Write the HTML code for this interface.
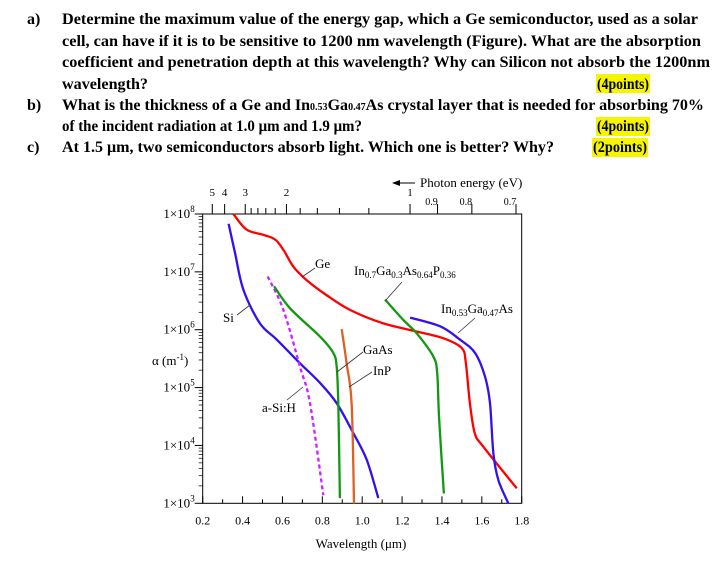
<!DOCTYPE html>
<html><head><meta charset="utf-8"><style>
html,body{margin:0;padding:0;background:#fff;}
svg{display:block;font-family:"Liberation Serif",serif;}
</style></head><body>
<svg width="717" height="576" viewBox="0 0 717 576">
<g font-weight="bold" font-size="16" fill="#000">
  <rect x="596" y="74" width="54" height="19" fill="#f5f500"/>
  <rect x="596" y="117" width="54" height="19" fill="#f5f500"/>
  <rect x="592" y="138" width="56" height="19" fill="#f5f500"/>
  <text x="27" y="24">a)</text>
  <text x="62" y="24" textLength="636" lengthAdjust="spacingAndGlyphs">Determine the maximum value of the energy gap, which a Ge semiconductor, used as a solar</text>
  <text x="62" y="46" textLength="639" lengthAdjust="spacingAndGlyphs">cell, can have if it is to be sensitive to 1200 nm wavelength (Figure).  What are the absorption</text>
  <text x="62" y="67" textLength="648" lengthAdjust="spacingAndGlyphs">coefficient and penetration depth at this wavelength?  Why can Silicon not absorb the 1200nm</text>
  <text x="62" y="89" textLength="86" lengthAdjust="spacingAndGlyphs">wavelength?</text>
  <text x="597" y="89" textLength="52" lengthAdjust="spacingAndGlyphs">(4points)</text>
  <text x="27" y="110">b)</text>
  <text x="62" y="110" textLength="642" lengthAdjust="spacingAndGlyphs">What is the thickness of a Ge and In<tspan font-size="10">0.53</tspan>Ga<tspan font-size="10">0.47</tspan>As crystal layer that is needed for absorbing 70%</text>
  <text x="62" y="131" textLength="300" lengthAdjust="spacingAndGlyphs">of the incident radiation at 1.0 μm and 1.9 μm?</text>
  <text x="597" y="131" textLength="52" lengthAdjust="spacingAndGlyphs">(4points)</text>
  <text x="27" y="152">c)</text>
  <text x="62" y="152" textLength="492" lengthAdjust="spacingAndGlyphs">At 1.5 μm, two semiconductors absorb light. Which one is better? Why?</text>
  <text x="593" y="152" textLength="54" lengthAdjust="spacingAndGlyphs">(2points)</text>
</g>
<g id="chart"></g>
</svg>
<script>
const xTickLabels=["0.2","0.4","0.6","0.8","1.0","1.2","1.4","1.6","1.8"];
const xTickValues=[0.2,0.4,0.6,0.8,1.0,1.2,1.4,1.6,1.8];
const yTickExps=[8,7,6,5,4,3];
const energyMajor=[5,4,3,2,1,0.9,0.8,0.7];
const energyMinor=[2.8,2.6,2.4,2.2,1.8,1.6,1.4,1.2];
const geLambda=[0.354,0.42,0.504,0.563,0.605,0.655,0.72,0.82,0.94,1.106,1.273,1.41,1.5,1.52,1.54,1.565,1.607,1.775];
const geLog=[8.0,7.73,7.64,7.56,7.38,7.09,6.86,6.6,6.34,6.11,5.97,5.85,5.68,5.42,4.73,4.21,3.98,3.26];
const siLambda=[0.33,0.362,0.404,0.487,0.571,0.688,0.789,0.872,0.956,1.023,1.081];
const siLog=[7.83,7.33,6.69,6.11,5.83,5.42,5.08,4.73,4.21,3.75,3.09];
const asiLambda=[0.526,0.605,0.688,0.738,0.805];
const asiLog=[6.92,6.34,5.36,4.73,3.14];
const gaasLambda=[0.558,0.638,0.789,0.855,0.872,0.88,0.888];
const gaasLog=[6.75,6.37,5.88,5.6,5.36,4.73,3.09];
const inpLambda=[0.897,0.922,0.947,0.959];
const inpLog=[6.01,5.42,4.73,3.0];
const ingaaspLambda=[1.115,1.206,1.273,1.356,1.376,1.386,1.41];
const ingaaspLog=[6.52,6.17,5.94,5.54,5.25,4.44,3.17];
const ingaasLambda=[1.24,1.39,1.49,1.566,1.616,1.641,1.658,1.683,1.733];
const ingaasLog=[6.21,6.06,5.83,5.6,5.19,4.73,3.86,3.4,3.0];

const L=202.7,R=521.7,T=214,B=503.3;
function xs(l){return L+(l-0.2)*(R-L)/1.6;}
function ys(e){return T+(8-e)*(B-T)/5;}
const NS="http://www.w3.org/2000/svg";
const g=document.getElementById('chart');
function mk(tag,attrs,parent){const e=document.createElementNS(NS,tag);for(const k in attrs)e.setAttribute(k,attrs[k]);(parent||g).appendChild(e);return e;}
function txt(x,y,s,size,anchor){const t=mk('text',{x:x,y:y,'font-size':size||12,'text-anchor':anchor||'start',fill:'#000'});t.innerHTML=s;return t;}

const fr=mk('rect',{x:L,y:T,width:R-L,height:B-T,fill:'none',stroke:'#000','stroke-width':1});



for(let i=0;i<xTickValues.length;i++){
  const x=xs(xTickValues[i]);
  mk('line',{x1:x,y1:B,x2:x,y2:B-7,stroke:'#000'});
  const t=txt(x,B+21,xTickLabels[i],12,'middle');
  
  
  if(i<xTickValues.length-1){const xm=xs(xTickValues[i]+0.1);mk('line',{x1:xm,y1:B,x2:xm,y2:B-4,stroke:'#000'});}
}
for(let i=0;i<yTickExps.length;i++){
  const e=yTickExps[i],y=ys(e);
  mk('line',{x1:L,y1:y,x2:L-8,y2:y,stroke:'#000'});
  const t=txt(L-8,y+4,'1×10<tspan font-size="9" dy="-6">'+e+'</tspan>',13,'end');
  
  
  if(e>3){for(let m=2;m<10;m++){const ym=ys(e-1+Math.log10(m));mk('line',{x1:L,y1:ym,x2:L-4,y2:ym,stroke:'#000','stroke-width':0.7});}}
}
for(const E of energyMajor){const x=xs(1.24/E);mk('line',{x1:x,y1:T,x2:x,y2:T-10,stroke:'#000'});
  const t=txt(E<1?x-6:x,E<1?T-9:T-18,String(E),E<1?10:11,'middle');
  
  }
for(const E of energyMinor){const x=xs(1.24/E);mk('line',{x1:x,y1:T,x2:x,y2:T-6,stroke:'#000'});}
const pe=txt(420,187,'Photon energy (eV)',13);


mk('line',{x1:398,y1:183,x2:415,y2:183,stroke:'#000'});
mk('path',{d:'M392 183 L400 180 L400 186 Z',fill:'#000'});
const xt=txt(361,548,'Wavelength (μm)',13,'middle');


const yt=txt(152,365,'α (m<tspan font-size="9" dy="-5">-1</tspan><tspan dy="5">)</tspan>',13);



function curve(lam,lg,color,name,dash){
  const P=lam.map((l,i)=>[xs(l),ys(lg[i])]);
  let d='M'+P[0][0].toFixed(1)+' '+P[0][1].toFixed(1);
  for(let i=0;i<P.length-1;i++){
    const p0=P[i-1]||P[i],p1=P[i],p2=P[i+1],p3=P[i+2]||P[i+1];
    const c1=[p1[0]+(p2[0]-p0[0])/6,p1[1]+(p2[1]-p0[1])/6];
    const c2=[p2[0]-(p3[0]-p1[0])/6,p2[1]-(p3[1]-p1[1])/6];
    d+='C'+c1[0].toFixed(1)+' '+c1[1].toFixed(1)+' '+c2[0].toFixed(1)+' '+c2[1].toFixed(1)+' '+p2[0].toFixed(1)+' '+p2[1].toFixed(1);
  }
  const p=mk('path',{d:d,fill:'none',stroke:color,'stroke-width':2.3,'stroke-linejoin':'round','stroke-linecap':'butt'});
  if(dash)p.setAttribute('stroke-dasharray',dash);
  
  
}
curve(geLambda,geLog,'#ff0000','ge-curve');
curve(siLambda,siLog,'#3311ee','si-curve');
curve(asiLambda,asiLog,'#cc22ff','a-si-h-curve','4 3');
curve(gaasLambda,gaasLog,'#119911','gaas-curve');
curve(inpLambda,inpLog,'#e06020','inp-curve');
curve(ingaaspLambda,ingaaspLog,'#119911','ingaasp-curve');
curve(ingaasLambda,ingaasLog,'#3311ee','ingaas-curve');

function label(x,y,s,lx1,ly1,lx2,ly2,name){
  const t=txt(x,y,s,13);
  
  
  mk('line',{x1:lx1,y1:ly1,x2:lx2,y2:ly2,stroke:'#333','stroke-width':0.8});
}
label(315,268,'Ge',302,277,315,268,'ge-label');
label(354,275,'In<tspan font-size="9" dy="3">0.7</tspan><tspan dy="-3">Ga</tspan><tspan font-size="9" dy="3">0.3</tspan><tspan dy="-3">As</tspan><tspan font-size="9" dy="3">0.64</tspan><tspan dy="-3">P</tspan><tspan font-size="9" dy="3">0.36</tspan>',385,301,402,282,'ingaasp-label');
label(441,313,'In<tspan font-size="9" dy="3">0.53</tspan><tspan dy="-3">Ga</tspan><tspan font-size="9" dy="3">0.47</tspan><tspan dy="-3">As</tspan>',458,333,475,318,'ingaas-label');
label(223,322,'Si',237,315,250,305,'si-label');
label(363,354,'GaAs',337,372,363,352,'gaas-label');
label(373,375,'InP',349,387,372,372,'inp-label');
label(262,412,'a-Si:H',287,400,303,387,'a-si-h-label');
</script>
</body></html>
